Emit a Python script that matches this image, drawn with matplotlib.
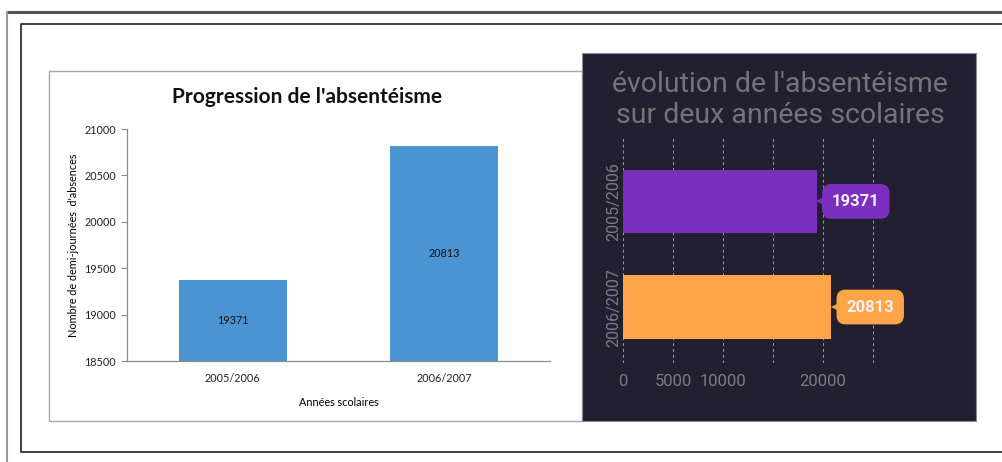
import matplotlib
matplotlib.use("Agg")
import matplotlib.pyplot as plt
from matplotlib.patches import Rectangle
from matplotlib.lines import Line2D
from matplotlib.ticker import FixedLocator, FixedFormatter
from matplotlib.transforms import offset_copy

# ── data ──
years = ["2005/2006", "2006/2007"]
absences = [19371, 20813]
left_yticks = [18500, 19000, 19500, 20000, 20500, 21000]
right_xticks = [0, 5000, 10000, 15000, 20000, 25000]
right_xlabels = ["0", "5000", "10000", "", "20000", ""]
right_colors = ["#7b2fbe", "#ffa447"]

W, H = 1003, 462
fig = plt.figure(figsize=(W / 100, H / 100), dpi=100)
fig.patch.set_facecolor("white")


def box(x0, y0, x1, y1):
	"""pixel box (top-left origin) -> figure fraction rect."""
	return [x0 / W, 1 - y1 / H, (x1 - x0) / W, (y1 - y0) / H]


def px_line(xs, ys, **kw):
	fig.add_artist(Line2D([x / W for x in xs], [1 - y / H for y in ys],
		transform=fig.transFigure, zorder=-2, **kw))


def px_rect(x0, y0, x1, y1, **kw):
	fig.add_artist(Rectangle((x0 / W, 1 - y1 / H), (x1 - x0) / W, (y1 - y0) / H,
		transform=fig.transFigure, zorder=-1, **kw))


# ── page frame ──
px_line([7, W], [12, 12], color="#555555", lw=2.2)
px_line([7.5, 7.5], [12, H], color="#9a9a9a", lw=1.5)
px_line([W, 21, 21, W], [24, 24, 452, 452], color="#333333", lw=1.3)

# ── left panel (excel-like) ──
px_rect(49, 71, 582, 421, fc="white", ec="#a8a8a8", lw=1.0)

ax = fig.add_axes(box(127, 129, 550, 361))
ax.set_facecolor("none")
ax.bar(range(len(years)), absences, width=0.51, color="#4a94d2", zorder=2)
ax.set_xlim(-0.5, 1.5)
ax.set_ylim(18500, 21000)
ax.yaxis.set_major_locator(FixedLocator(left_yticks))
ax.set_xticks(range(len(years)))
ax.set_xticklabels(years)
for i, v in enumerate(absences):
	ax.text(i, (18500 + v) / 2, str(v), ha="center", va="center",
		fontsize=7.8, family="Lato", color="#111111")
for s in ("top", "right"):
	ax.spines[s].set_visible(False)
for s in ("left", "bottom"):
	ax.spines[s].set_color("#8c8c8c")
	ax.spines[s].set_linewidth(0.9)
ax.tick_params(axis="y", length=4, color="#8c8c8c", labelsize=7.8, pad=4)
ax.tick_params(axis="x", length=0, labelsize=7.8, pad=9)
for t in ax.get_xticklabels() + ax.get_yticklabels():
	t.set_family("Lato")
	t.set_color("#222222")
ax.set_xlabel("Années scolaires", family="Lato", fontsize=7.8, labelpad=9)
ax.set_ylabel("Nombre de demi-journées  d'absences", family="Lato", fontsize=7.8, labelpad=4)
fig.text(307 / W, 1 - 97 / H, "Progression de l'absentéisme", ha="center", va="center",
	family="Lato", fontweight="bold", fontsize=15, color="#111111")

# ── right panel (dark chart) ──
px_rect(582, 53, 976, 421, fc="#221f30", ec="#8a8a96", lw=0.8)
fig.text(780 / W, 1 - 84 / H, "évolution de l'absentéisme", ha="center", va="center",
	family="Roboto", fontsize=20.5, color="#74737c")
fig.text(780 / W, 1 - 116 / H, "sur deux années scolaires", ha="center", va="center",
	family="Roboto", fontsize=20.5, color="#74737c")

ax2 = fig.add_axes(box(623, 138, 893, 363))
ax2.set_facecolor("none")
ax2.barh(range(len(years)), absences, height=0.6, color=right_colors, zorder=2)
ax2.set_xlim(0, 27000)
ax2.set_ylim(1.53, -0.60)
ax2.xaxis.set_major_locator(FixedLocator(right_xticks))
ax2.xaxis.set_major_formatter(FixedFormatter(right_xlabels))
ax2.set_yticks(range(len(years)))
ax2.set_yticklabels(years, rotation=90, va="center")
ax2.grid(axis="x", color="#9a9aa8", ls=(0, (3, 3)), lw=0.7, zorder=1)
for s in ax2.spines.values():
	s.set_visible(False)
ax2.tick_params(axis="x", length=0, labelsize=12, labelcolor="#7c7b85", pad=8)
ax2.tick_params(axis="y", length=0, labelsize=11.5, labelcolor="#7c7b85", pad=1)
for t in ax2.get_xticklabels() + ax2.get_yticklabels():
	t.set_family("Roboto")

# tooltips: rounded label + small pointer whose tip touches the bar end
tip_tr = offset_copy(ax2.transData, fig=fig, x=5.5, y=0, units="dots")
for i, (v, c) in enumerate(zip(absences, right_colors)):
	ax2.annotate(str(v), xy=(v, i), xytext=(11, 0), textcoords="offset points",
		ha="left", va="center", fontsize=12, fontweight="bold", family="Roboto",
		color="#f4f0f8", annotation_clip=False, zorder=4,
		bbox=dict(boxstyle="round,pad=0.55,rounding_size=0.5", fc=c, ec=c))
	ax2.plot([v], [i], marker="<", ms=8, color=c, markeredgewidth=0,
		clip_on=False, zorder=3, transform=tip_tr)

fig.savefig("out.png", dpi=100)
